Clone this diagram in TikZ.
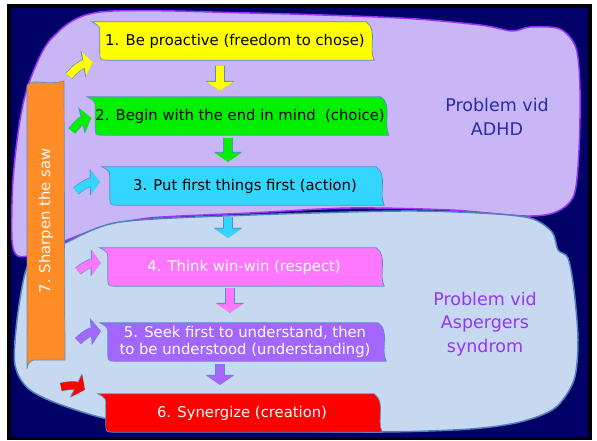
\documentclass[tikz,border=0pt]{standalone}
\usepackage{fontspec}
\setmainfont{DejaVu Sans}
\usetikzlibrary{arrows.meta}
\definecolor{slide}{HTML}{000066}
\definecolor{adhdbg}{HTML}{C9B6F6}
\definecolor{adhdline}{HTML}{9933FF}
\definecolor{aspbg}{HTML}{C6D9F0}
\definecolor{aspline}{HTML}{4F81BD}
\definecolor{boxline}{HTML}{5B8CC8}
\definecolor{hyellow}{HTML}{FFFF00}
\definecolor{hgreen}{HTML}{00F000}
\definecolor{hcyan}{HTML}{33D6FF}
\definecolor{hpink}{HTML}{FF77FF}
\definecolor{hpurple}{HTML}{A366FF}
\definecolor{hred}{HTML}{FF0000}
\definecolor{horange}{HTML}{FF8C26}
\definecolor{adhdtext}{HTML}{2B2BA8}
\definecolor{asptext}{HTML}{9933FF}
\pgfdeclarelayer{blobs}
\pgfdeclarelayer{banners}
\pgfsetlayers{blobs,banners,main}

\begin{document}
\begin{tikzpicture}[
  x=1pt, y=-1pt,
  habit/.style={minimum height=38pt, inner sep=0pt, align=center,
                font=\fontsize{14.8}{17}\selectfont},
  banner/.style={draw=boxline, line width=0.7pt},
  problem/.style={align=center, font=\fontsize{17.5}{23.5}\selectfont},
  darr/.style={-{Triangle[width=26pt,length=9pt]}, line width=8pt,
               preaction={draw=boxline, line width=9.2pt,
                          -{Triangle[width=28.5pt,length=10pt]}},
               shorten <=6pt, shorten >=6pt},
  sarr/.style={-{Triangle[width=24pt,length=9pt]}, line width=7.5pt,
               preaction={draw=boxline, line width=8.7pt,
                          -{Triangle[width=26.5pt,length=10pt]}}},
]
\useasboundingbox (0,0) rectangle (597,440);

% slide and the two problem areas
\begin{pgfonlayer}{blobs}
\fill[white] (0,0) rectangle (597,440);
\fill[black] (7,4) rectangle (592,440);
\fill[slide] (11,8) rectangle (588,437);
\filldraw[fill=adhdbg, draw=adhdline, line width=1.5pt]
  plot[smooth cycle] coordinates {(100,12) (250,13) (400,18) (480,25)
  (512,31) (530,27) (560,29) (576,48) (580,90) (579,150) (574,195)
  (556,212) (525,216) (450,210) (350,208) (250,213) (150,218) (100,228)
  (60,243) (35,254) (18,256) (12,240) (13,180) (20,120) (30,80) (52,38)};
\filldraw[fill=aspbg, draw=aspline, line width=1.5pt]
  plot[smooth cycle] coordinates {(65,243) (120,222) (250,215) (400,211)
  (480,213) (530,218) (552,232) (558,250) (568,258) (574,290) (578,340)
  (574,380) (555,408) (520,422) (470,429) (380,432) (250,430) (130,423)
  (70,408) (30,390) (15,365) (17,320) (26,270) (40,255)};
\end{pgfonlayer}

% sharpen the saw
\filldraw[fill=horange, draw=boxline, line width=0.7pt]
  (27,85) .. controls (35,78) and (45,86) .. (64,81) -- (65,360)
  -- (34,360) .. controls (29,361) and (27,365) .. (27,369) -- cycle;
\node[rotate=90, text=white, font=\fontsize{14.8}{17}\selectfont]
  (saw) at (46,221) {7. Sharpen the saw};

% the habits
\node[habit, minimum width=270pt] (b1) at (235,41) {1. Be proactive (freedom to chose)};
\node[habit, minimum width=280pt] (b2) at (240,116) {2. Begin with the end in mind~~(choice)};
\node[habit, minimum width=270pt] (b3) at (245,186) {3. Put first things first (action)};
\node[habit, minimum width=272pt, text=white] (b4) at (244,267) {4. Think win-win (respect)};
\node[habit, minimum width=274pt, text=white] (b5) at (245,342) {5. Seek first to understand, then\\to be understood (understanding)};
\node[habit, minimum width=272pt, text=white] (b6) at (242,413) {6. Synergize (creation)};

\begin{pgfonlayer}{banners}
\foreach \n/\c in {b1/hyellow, b2/hgreen, b3/hcyan, b4/hpink, b5/hpurple, b6/hred}
  \filldraw[banner, fill=\c]
    ([shift={(-8,0)}]\n.north west) -- ([shift={(-4,0)}]\n.north east)
    .. controls +(12,8) and +(-6,-12) .. ([shift={(4,0)}]\n.south east)
    -- ([shift={(6,0)}]\n.south west)
    .. controls +(-6,0) and +(0,6) .. ([shift={(0,-8)}]\n.south west)
    -- ([shift={(0,8)}]\n.north west)
    .. controls +(0,-4) and +(4,2) .. ([shift={(-8,0)}]\n.north west) -- cycle;
\end{pgfonlayer}

\node[problem, text=adhdtext] (adhd) at (497,117) {Problem vid\\ADHD};
\node[problem, text=asptext] (asp) at (485,324) {Problem vid\\Aspergers\\syndrom};

% arrows down
\draw[darr, hyellow] ([xshift=-15pt]b1.south) -- ([xshift=-20pt]b2.north);
\draw[darr, hgreen, shorten <=3pt, shorten >=5pt] ([xshift=-12pt]b2.south) -- ([xshift=-17pt]b3.north);
\draw[darr, hcyan, shorten <=12pt, shorten >=10pt] ([xshift=-17pt]b3.south) -- ([xshift=-16pt]b4.north);
\draw[darr, hpink, shorten <=2pt, shorten >=10pt] ([xshift=-14pt]b4.south) -- ([xshift=-15pt]b5.north);
\draw[darr, hpurple, shorten <=3pt, shorten >=9pt] ([xshift=-25pt]b5.south) -- ([xshift=-22pt]b6.north);

% arrows from the saw
\coordinate (t1) at (69,76);
\coordinate (t2) at (72,131);
\coordinate (t3) at (76,191);
\coordinate (t4) at (78,271);
\coordinate (t5) at (78,341);
\coordinate (t6) at (61,387);
\draw[sarr, hyellow] (t1) to[bend left=20] ([shift={(-7,2)}]b1.south west);
\draw[sarr, hgreen]  (t2) to[bend left=20] ([shift={(-4,2)}]b2.west);
\draw[sarr, hcyan]   (t3) to[bend left=20] ([shift={(-10,-4)}]b3.west);
\draw[sarr, hpink]   (t4) to[bend left=20] ([shift={(-7,-4)}]b4.west);
\draw[sarr, hpurple] (t5) to[bend left=20] ([shift={(-7,-11)}]b5.west);
\draw[sarr, hred]    (t6) to[bend left=20] ([shift={(-21,-4)}]b6.north west);
\end{tikzpicture}
\end{document}
